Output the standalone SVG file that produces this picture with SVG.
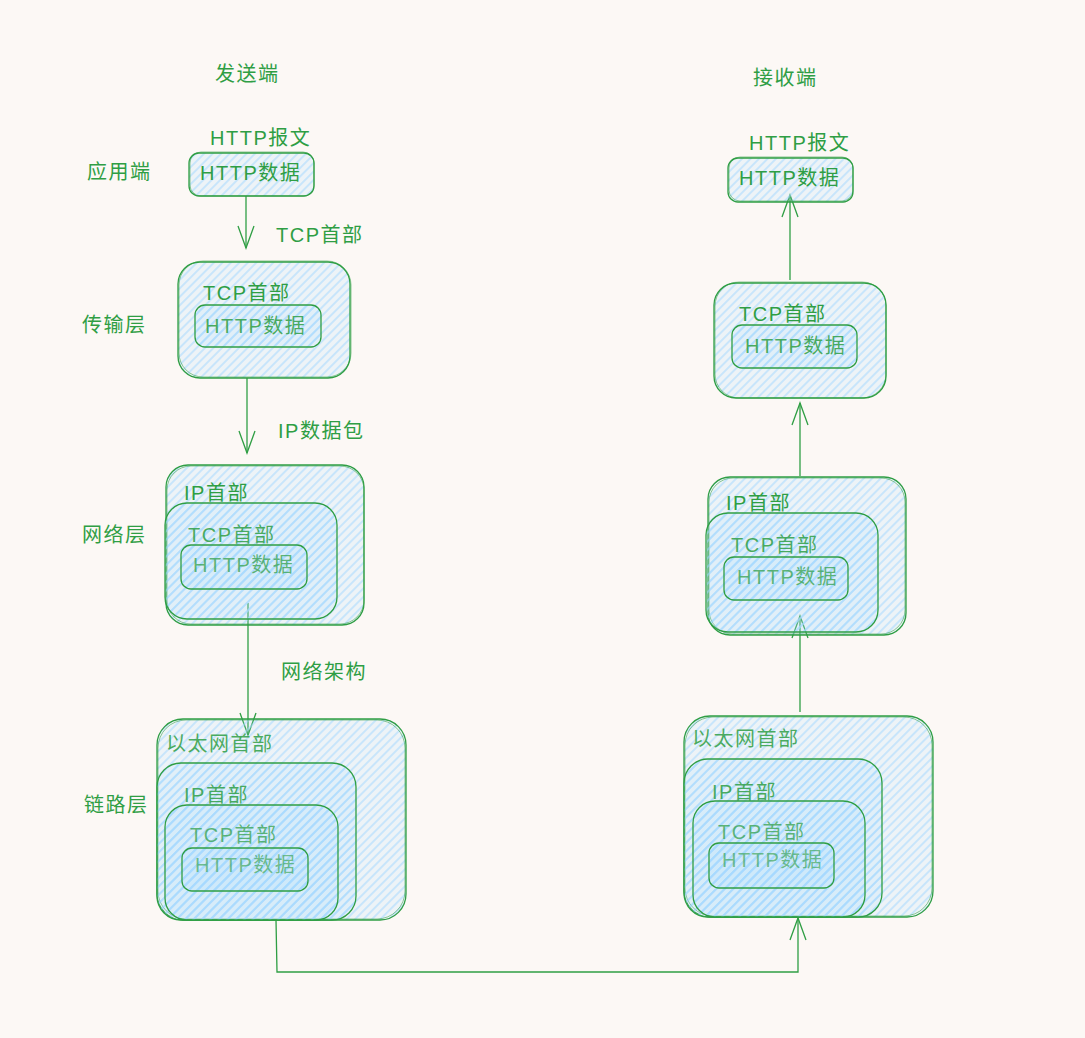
<svg xmlns="http://www.w3.org/2000/svg" width="1085" height="1038" viewBox="0 0 1085 1038">
<style>
.bg{fill:#fcf8f5}
.box{fill:url(#hatch);stroke:#2f9e44;stroke-width:1.3}
.sk{fill:none;stroke:#2f9e44;stroke-width:1;stroke-opacity:0.55}
.lbl{font-family:"Liberation Sans","Noto Sans CJK SC",sans-serif;font-size:20px;fill:#2f9e44;letter-spacing:1.5px}
.t2{fill-opacity:0.85}
.t3{fill-opacity:0.72}
.t4{fill-opacity:0.62}
.conn{fill:none;stroke:#2f9e44;stroke-width:1.3}
</style>
<defs>
<pattern id="hatch" width="6" height="6" patternUnits="userSpaceOnUse" patternTransform="rotate(45)">
<rect width="6" height="6" fill="#a5d8ff" fill-opacity="0.16"/>
<line x1="1" y1="0" x2="1" y2="6" stroke="#a5d8ff" stroke-width="1.3" stroke-opacity="0.8"/>
</pattern>
<marker id="arr" markerUnits="userSpaceOnUse" markerWidth="26" markerHeight="22" viewBox="0 0 26 22" refX="23" refY="10" orient="auto">
<path d="M1,2 L23,10 L1,18" fill="none" stroke="#2f9e44" stroke-width="1.3"/>
</marker>
</defs>
<rect class="bg" x="0" y="0" width="1085" height="1038"/>

<g id="labels">
<text class="lbl" x="215" y="81">发送端</text>
<text class="lbl" x="753" y="85">接收端</text>
<text class="lbl" x="87" y="179">应用端</text>
<text class="lbl" x="82" y="332">传输层</text>
<text class="lbl" x="82" y="542">网络层</text>
<text class="lbl" x="84" y="812">链路层</text>
<text class="lbl" x="210" y="145">HTTP报文</text>
<text class="lbl" x="749" y="150">HTTP报文</text>
<text class="lbl" x="276" y="242">TCP首部</text>
<text class="lbl" x="278" y="438">IP数据包</text>
<text class="lbl" x="281" y="679">网络架构</text>
</g>

<g id="connectors">
<path class="conn" d="M246 196 L246 248" marker-end="url(#arr)"/>
<path class="conn" d="M247 378 L247 453" marker-end="url(#arr)"/>
<path class="conn" d="M248 603 L248 735" marker-end="url(#arr)"/>
<path class="conn" d="M276 920 L277 972 L798 972 L798 918" marker-end="url(#arr)"/>
<path class="conn" d="M800 712 L800 616" marker-end="url(#arr)"/>
<path class="conn" d="M800 476 L800 403" marker-end="url(#arr)"/>
<path class="conn" d="M790 280 L790 195" marker-end="url(#arr)"/>
</g>

<g id="send-app">
<rect class="box" x="189" y="153" width="125" height="43" rx="10"/>
<rect class="sk" x="190" y="152" width="124" height="44" rx="11"/>
<text class="lbl" x="200" y="180">HTTP数据</text>
</g>

<g id="send-transport">
<rect class="box" x="178" y="262" width="172" height="116" rx="22"/>
<rect class="sk" x="179" y="261" width="172" height="116" rx="24"/>
<text class="lbl" x="203" y="300">TCP首部</text>
<rect class="box" x="195" y="305" width="126" height="42" rx="10"/>
<text class="lbl t2" x="205" y="333">HTTP数据</text>
</g>

<g id="send-network">
<rect class="box" x="166" y="465" width="198" height="160" rx="22"/>
<rect class="sk" x="167" y="466" width="197" height="158" rx="24"/>
<text class="lbl" x="184" y="500">IP首部</text>
<rect class="box" x="165" y="503" width="172" height="116" rx="22"/>
<text class="lbl t2" x="188" y="542">TCP首部</text>
<rect class="box" x="181" y="545" width="126" height="44" rx="10"/>
<text class="lbl t3" x="193" y="572">HTTP数据</text>
</g>

<g id="send-link">
<rect class="box" x="157" y="719" width="249" height="201" rx="26"/>
<rect class="sk" x="158" y="720" width="247" height="199" rx="28"/>
<text class="lbl t2" x="166" y="751">以太网首部</text>
<rect class="box" x="157" y="763" width="199" height="157" rx="24"/>
<text class="lbl t2" x="184" y="802">IP首部</text>
<rect class="box" x="165" y="805" width="173" height="115" rx="22"/>
<text class="lbl t3" x="190" y="842">TCP首部</text>
<rect class="box" x="182" y="848" width="126" height="43" rx="10"/>
<text class="lbl t4" x="195" y="872">HTTP数据</text>
</g>

<g id="recv-app">
<rect class="box" x="728" y="158" width="125" height="44" rx="10"/>
<rect class="sk" x="729" y="157" width="124" height="44" rx="11"/>
<text class="lbl" x="739" y="185">HTTP数据</text>
</g>

<g id="recv-transport">
<rect class="box" x="714" y="283" width="172" height="115" rx="22"/>
<rect class="sk" x="715" y="282" width="171" height="116" rx="24"/>
<text class="lbl" x="739" y="321">TCP首部</text>
<rect class="box" x="732" y="325" width="125" height="43" rx="10"/>
<text class="lbl t2" x="745" y="353">HTTP数据</text>
</g>

<g id="recv-network">
<rect class="box" x="708" y="477" width="198" height="158" rx="22"/>
<rect class="sk" x="709" y="478" width="196" height="156" rx="24"/>
<text class="lbl" x="726" y="510">IP首部</text>
<rect class="box" x="706" y="513" width="172" height="119" rx="22"/>
<text class="lbl t2" x="731" y="552">TCP首部</text>
<rect class="box" x="724" y="557" width="124" height="43" rx="10"/>
<text class="lbl t3" x="737" y="584">HTTP数据</text>
</g>

<g id="recv-link">
<rect class="box" x="684" y="716" width="249" height="201" rx="26"/>
<rect class="sk" x="685" y="717" width="247" height="199" rx="28"/>
<text class="lbl t2" x="692" y="746">以太网首部</text>
<rect class="box" x="684" y="759" width="198" height="158" rx="24"/>
<text class="lbl t2" x="712" y="799">IP首部</text>
<rect class="box" x="693" y="801" width="172" height="116" rx="22"/>
<text class="lbl t3" x="718" y="839">TCP首部</text>
<rect class="box" x="709" y="843" width="125" height="45" rx="10"/>
<text class="lbl t4" x="722" y="867">HTTP数据</text>
</g>
</svg>
